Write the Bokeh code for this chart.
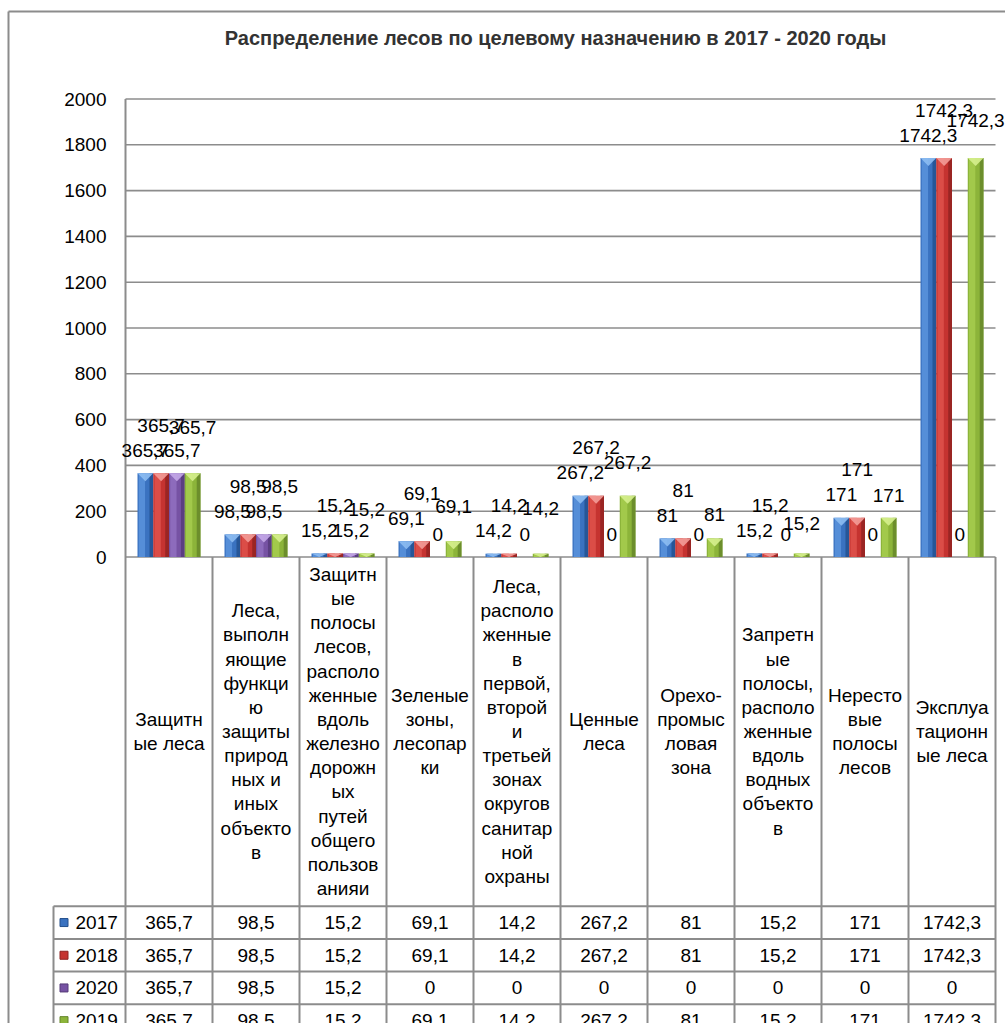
from bokeh.plotting import figure
from bokeh.models import Range1d, ColumnDataSource
from bokeh.embed import file_html
from bokeh.resources import INLINE
from bokeh.core.properties import value

# ---------------- data ----------------
categories = [
    "Защитные леса",
    "Леса, выполняющие функцию защиты природных и иных объектов",
    "Защитные полосы лесов, расположенные вдоль железнодорожных путей общего пользованияи",
    "Зеленые зоны, лесопарки",
    "Леса, расположенные в первой, второй и третьей зонах округов санитарной охраны",
    "Ценные леса",
    "Орехо-промысловая зона",
    "Запретные полосы, расположенные вдоль водных объектов",
    "Нерестовые полосы лесов",
    "Эксплуатационные леса",
]
cat_labels = [
    "Защитн\nые леса",
    "Леса,\nвыполн\nяющие\nфункци\nю\nзащиты\nприрод\nных и\nиных\nобъекто\nв",
    "Защитн\nые\nполосы\nлесов,\nрасполо\nженные\nвдоль\nжелезно\nдорожн\nых\nпутей\nобщего\nпользов\nанияи",
    "Зеленые\nзоны,\nлесопар\nки",
    "Леса,\nрасполо\nженные\nв\nпервой,\nвторой\nи\nтретьей\nзонах\nокругов\nсанитар\nной\nохраны",
    "Ценные\nлеса",
    "Орехо-\nпромыс\nловая\nзона",
    "Запретн\nые\nполосы,\nрасполо\nженные\nвдоль\nводных\nобъекто\nв",
    "Нересто\nвые\nполосы\nлесов",
    "Эксплуа\nтационн\nые леса",
]
years = ["2017", "2018", "2020", "2019"]
s2017 = [365.7, 98.5, 15.2, 69.1, 14.2, 267.2, 81, 15.2, 171, 1742.3]
s2018 = [365.7, 98.5, 15.2, 69.1, 14.2, 267.2, 81, 15.2, 171, 1742.3]
s2020 = [365.7, 98.5, 15.2, 0, 0, 0, 0, 0, 0, 0]
s2019 = [365.7, 98.5, 15.2, 69.1, 14.2, 267.2, 81, 15.2, 171, 1742.3]
series = [s2017, s2018, s2020, s2019]
y_ticks = [0, 200, 400, 600, 800, 1000, 1200, 1400, 1600, 1800, 2000]
title_text = "Распределение лесов по целевому назначению в 2017 - 2020 годы"

# ---------------- styles / layout ----------------
FONT = value("Liberation Sans")
NUM_FS = "19px"
mid_c = ["#3A72C0", "#C53330", "#7652A3", "#8CB43A"]
light_c = ["#5C95DD", "#E0544E", "#9472C2", "#A8CE50"]
dark_c = ["#234F8C", "#8E2220", "#553A78", "#648529"]
cap_c = ["#8DBDF2", "#F39C98", "#C4A8E8", "#D6F08E"]
label_lift_px = [23, 48, 23, None]          # None -> per-category lift below
green_lift_px = [46, 48, 44, 35, 45, 33, 24, 30, 22, 38]
grid_c = "#8C8C8C"

W, H = 1005, 1023
PLOT_L, CAT_W = 125, 87
Y_ZERO, Y_TOP, Y_MAX = 556.5, 98.5, 2000
UPP = Y_MAX / (Y_ZERO - Y_TOP)
TABLE_TOP = 905.7
ROW_H = 32.7
LEG_L = 53
BAR_W = 0.181
NCAT = len(categories)

p = figure(width=W, height=H,
           x_range=Range1d(-PLOT_L / CAT_W, (W - PLOT_L) / CAT_W),
           y_range=Range1d(-(H - Y_ZERO) * UPP, Y_ZERO * UPP),
           x_axis_type=None, y_axis_type=None,
           output_backend="svg", toolbar_location=None, min_border=0,
           background_fill_color="white", border_fill_color="white")
p.grid.visible = False
p.outline_line_color = None
p.extra_x_ranges = {"px": Range1d(0, W)}
p.extra_y_ranges = {"px": Range1d(H, 0)}
Y_BOTTOM = p.y_range.start

# outer chart border (left & top)
p.segment(x0=[8, 8], y0=[11, 11], x1=[8, W], y1=[H, 11],
          line_color=grid_c, line_width=2, x_range_name="px", y_range_name="px")

# title
p.text(x=[555], y=[37], text=[title_text], text_font=FONT, text_font_size="20px",
       text_font_style="bold", text_color="#333333", text_align="center", text_baseline="middle",
       x_range_name="px", y_range_name="px")

# gridlines and y tick labels
p.segment(x0=[0] * len(y_ticks), x1=[NCAT] * len(y_ticks), y0=y_ticks, y1=y_ticks,
          line_color=grid_c, line_width=1.6)
p.text(x=[106] * len(y_ticks), y=y_ticks, text=[str(t) for t in y_ticks],
       text_font=FONT, text_font_size=NUM_FS, text_align="right", text_baseline="middle",
       text_color="black", x_range_name="px")

# table vertical lines (category columns) incl. axis line
p.segment(x0=list(range(NCAT + 1)), x1=list(range(NCAT + 1)),
          y0=[Y_MAX] + [0] * NCAT, y1=[Y_BOTTOM] * (NCAT + 1),
          line_color=grid_c, line_width=2)

def fmt(v):
    return str(int(v)) if float(v).is_integer() else ("%.1f" % v).replace(".", ",")

# bars with a simple cylinder-like shading
for j, vals in enumerate(series):
    xc = [i + 0.5 + (j - 1.5) * BAR_W for i in range(NCAT)]
    src = ColumnDataSource(dict(x=xc, top=vals))
    p.vbar(x="x", top="top", bottom=0, width=BAR_W, source=src,
           fill_color=mid_c[j], line_color=None)
    p.vbar(x=[x - BAR_W * 0.22 for x in xc], top=vals, bottom=0, width=BAR_W * 0.4,
           fill_color=light_c[j], line_color=None, fill_alpha=0.8)
    p.vbar(x=[x + BAR_W * 0.38 for x in xc], top=vals, bottom=0, width=BAR_W * 0.24,
           fill_color=dark_c[j], line_color=None, fill_alpha=0.8)
    xs, ys = [], []
    for x, v in zip(xc, vals):
        if v > 0:
            h = min(8 * UPP, v)
            xs.append([x - BAR_W / 2, x + BAR_W / 2, x])
            ys.append([v, v, v - h])
    p.patches(xs=xs, ys=ys, fill_color=cap_c[j], line_color=None, fill_alpha=0.9)
    lifts = [label_lift_px[j]] * NCAT if label_lift_px[j] is not None else green_lift_px
    p.text(x=xc, y=[v + l * UPP for v, l in zip(vals, lifts)], text=[fmt(v) for v in vals],
           text_font=FONT, text_font_size=NUM_FS, text_align="center", text_baseline="middle",
           text_color="black")

# category header labels
p.text(x=[i + 0.5 for i in range(NCAT)], y=[731] * NCAT, text=cat_labels,
       text_font=FONT, text_font_size="19px", text_align="center", text_baseline="middle",
       text_line_height=1.15, text_color="black", y_range_name="px")

# data table rows
nrow = len(series)
row_lines = [TABLE_TOP + k * ROW_H for k in range(nrow + 1)]
p.segment(x0=[(LEG_L - PLOT_L) / CAT_W] * len(row_lines), x1=[NCAT] * len(row_lines),
          y0=row_lines, y1=row_lines, line_color=grid_c, line_width=2, y_range_name="px")
p.segment(x0=[(LEG_L - PLOT_L) / CAT_W], x1=[(LEG_L - PLOT_L) / CAT_W],
          y0=[TABLE_TOP], y1=[H], line_color=grid_c, line_width=2, y_range_name="px")
for j, vals in enumerate(series):
    yc = TABLE_TOP + (j + 0.5) * ROW_H
    p.rect(x=[63.5], y=[yc], width=8, height=8, fill_color=mid_c[j], line_color=dark_c[j],
           line_width=1, x_range_name="px", y_range_name="px")
    p.text(x=[75], y=[yc], text=[years[j]], text_font=FONT, text_font_size=NUM_FS,
           text_align="left", text_baseline="middle", text_color="black",
           x_range_name="px", y_range_name="px")
    p.text(x=[i + 0.5 for i in range(NCAT)], y=[yc] * NCAT, text=[fmt(v) for v in vals],
           text_font=FONT, text_font_size=NUM_FS, text_align="center", text_baseline="middle",
           text_color="black", y_range_name="px")

open("out.html", "w").write(file_html(p, INLINE))
